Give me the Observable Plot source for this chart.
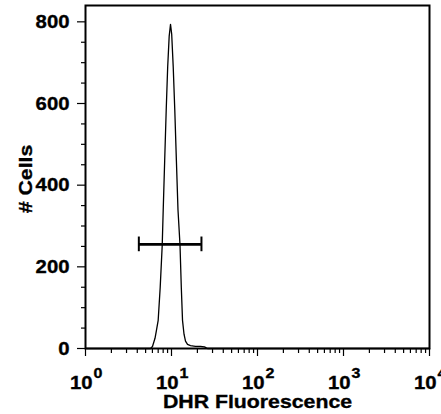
<!DOCTYPE html>
<html><head><meta charset="utf-8">
<script src="https://cdn.jsdelivr.net/npm/d3@7"></script>
<script src="https://cdn.jsdelivr.net/npm/@observablehq/plot@0.6"></script>
<style>
body{margin:0;background:#fff;}
#chart svg{display:block;}
</style></head><body><div id="chart"></div>
<script>
// Histogram (DHR fluorescence vs number of cells)
const fluorescence = [1, 5.70, 6.01, 6.43, 6.69, 7.00, 7.39, 7.80, 8.01, 8.33, 8.68, 9.03, 9.40, 9.74, 10.05, 10.47, 10.92, 11.40, 11.90, 12.56, 13.00, 13.43, 13.98, 14.55, 15.35, 16.62, 19.0, 21.7, 24.2, 26.2, 10000];
const cells        = [0, 0,    5,    25,   45,   69,   150,  253,  339,  460,  584,  690,  765,  794,  770,   690,   584,   460,   339,   253,   150,   69,    35,    18,    10,    7,     5,    5,    4,    0,    0];

const yMajorTicks = [0, 200, 400, 600, 800];
const yMinorTicks = [50, 100, 150, 250, 300, 350, 450, 500, 550, 650, 700, 750];
const xMajorTicks = [1, 10, 100, 1000, 10000];
const xTickBase = "10";
const xTickExponents = ["0", "1", "2", "3", "4"];
const xMinorTicks = [2,3,4,5,6,7,8,9, 20,30,40,50,60,70,80,90, 200,300,400,500,600,700,800,900, 2000,3000,4000,5000,6000,7000,8000,9000];

const gateLow = 4.17, gateHigh = 22.3, gateLevel = 255, gateCap = 18;

const xTitle = "DHR Fluorescence";
const yTitle = "# Cells";

const data = fluorescence.map((f, i) => ({f, n: cells[i]}));
const gate = [{x1: gateLow, x2: gateHigh, y: gateLevel}];
const caps = [gateLow, gateHigh].map(x => ({x, y1: gateLevel - gateCap, y2: gateLevel + gateCap}));

const plot = Plot.plot({
  width: 441, height: 414,
  marginLeft: 85, marginRight: 12, marginTop: 5, marginBottom: 66,
  style: {fontFamily: "'Liberation Sans', Arial, sans-serif", fontSize: "19px", fontWeight: "bold", color: "#000", background: "#fff"},
  x: {type: "log", domain: [1, 10000]},
  y: {domain: [0, 840]},
  marks: [
    Plot.axisY(yMinorTicks, {tickSize: 4, tickFormat: () => "", label: null, strokeWidth: 1.2}),
    Plot.axisY(yMajorTicks, {tickSize: 8, tickPadding: 8, tickFormat: d => String(d), label: null, strokeWidth: 1.2, fontWeight: "bold"}),
    Plot.axisX(xMinorTicks, {tickSize: 5, tickFormat: () => "", label: null, strokeWidth: 1.2}),
    Plot.axisX(xMajorTicks, {tickSize: 8, tickFormat: () => "", label: null, strokeWidth: 1.2}),
    Plot.line(data, {x: "f", y: "n", stroke: "#000", strokeWidth: 1.3}),
    Plot.ruleY(gate, {x1: "x1", x2: "x2", y: "y", stroke: "#000", strokeWidth: 2.6}),
    Plot.ruleX(caps, {x: "x", y1: "y1", y2: "y2", stroke: "#000", strokeWidth: 2}),
    Plot.frame({stroke: "#000", strokeWidth: 2}),
    Plot.text(xMajorTicks, {x: d => d, frameAnchor: "bottom", dy: 40, dx: 7, text: () => xTickBase, textAnchor: "end", lineAnchor: "bottom", fontWeight: "bold"}),
    Plot.text(xMajorTicks, {x: d => d, frameAnchor: "bottom", dy: 29, dx: 8, text: (d, i) => xTickExponents[i], textAnchor: "start", lineAnchor: "bottom", fontSize: 15, fontWeight: "bold"}),
    Plot.text([xTitle], {frameAnchor: "bottom", dy: 59, textAnchor: "middle", lineAnchor: "bottom", text: d => d, fontWeight: "bold"}),
    Plot.text([yTitle], {frameAnchor: "left", dx: -54, dy: 2, rotate: -90, textAnchor: "middle", lineAnchor: "bottom", text: d => d, fontWeight: "bold"})
  ]
});

document.getElementById("chart").appendChild(plot);

// horizontal stretch and extra weight of the bold lettering, as in the reference
const S = 1.07, ST = 1.12;
d3.select(plot).selectAll("text").each(function() {
  const t = this.textContent;
  const s = (t === xTitle || t === yTitle) ? ST : S;
  this.setAttribute("stroke", "#000");
  this.setAttribute("stroke-width", "0.35");
  const tr = this.getAttribute("transform");
  if (tr) {
    this.setAttribute("transform", tr + ` scale(${s},1)`);
  } else {
    const x = +this.getAttribute("x") || 0, y = +this.getAttribute("y") || 0;
    this.setAttribute("transform", `translate(${x},${y}) scale(${s},1) translate(${-x},${-y})`);
  }
});
</script>
</body></html>
